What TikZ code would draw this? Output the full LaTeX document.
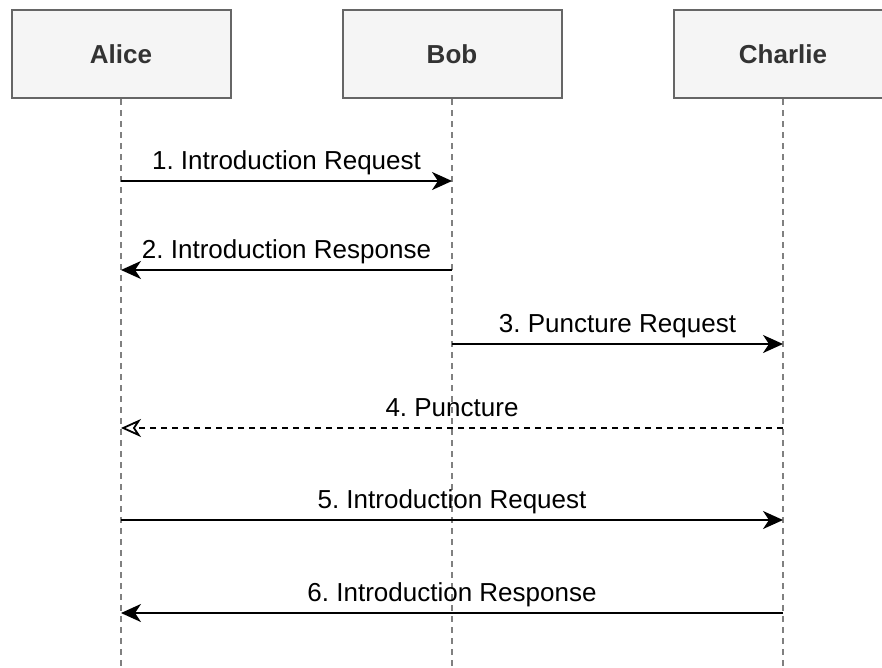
\documentclass[tikz,border=0pt]{standalone}
\usepackage{fontspec}
\setmainfont{Liberation Sans}
\usepackage{tikz}
\usetikzlibrary{arrows.meta, calc}
\frenchspacing
\definecolor{boxfill}{HTML}{F5F5F5}
\definecolor{boxline}{HTML}{666666}
\definecolor{lifeline}{HTML}{808080}
\tikzset{actor/.style={draw=boxline, fill=boxfill, line width=2pt, minimum width=219pt, minimum height=88pt, font=\fontsize{26}{30}\selectfont\bfseries, text=black!80},
  life/.style={draw=lifeline, line width=2pt, dash pattern=on 6pt off 5pt},
  msg/.style={line width=2.2pt, -{Stealth[length=20pt, width=18pt, inset=6pt]}},
  reply/.style={msg, dash pattern=on 6pt off 5pt, -{Stealth[open, length=20pt, width=18pt, inset=6pt, line width=1.8pt]}},
  msglabel/.style={anchor=base, yshift=12pt, font=\fontsize{26}{30}\selectfont, inner sep=0pt}}

\begin{document}
\begin{tikzpicture}[x=1pt, y=-1pt]
    \useasboundingbox (0, 0) rectangle (882, 667);
    \node[actor] (alice) at (121, 54) {Alice};
    \node[actor] (bob) at (452, 54) {Bob};
    \node[actor] (charlie) at (783, 54) {Charlie};
    \coordinate (r1) at (0, 181);
    \coordinate (r2) at (0, 270);
    \coordinate (r3) at (0, 344);
    \coordinate (r4) at (0, 428);
    \coordinate (r5) at (0, 520);
    \coordinate (r6) at (0, 613);
    \coordinate (end) at (0, 667);
    \foreach \who in {alice, bob, charlie}
        \draw[life] (\who.south) -- (\who |- end);
    \path
    	(alice |- r1) edge[msg] node[msglabel] {1. Introduction Request} (bob |- r1)
    	(bob |- r2) edge[msg] node[msglabel] {2. Introduction Response} (alice |- r2)
    	(bob |- r3) edge[msg] node[msglabel] {3. Puncture Request} (charlie |- r3)
    	(charlie |- r4) edge[reply] node[msglabel] {4. Puncture} (alice |- r4)
    	(alice |- r5) edge[msg] node[msglabel] {5. Introduction Request} (charlie |- r5)
    	(charlie |- r6) edge[msg] node[msglabel] {6. Introduction Response} (alice |- r6)
    	;
\end{tikzpicture}
\end{document}
